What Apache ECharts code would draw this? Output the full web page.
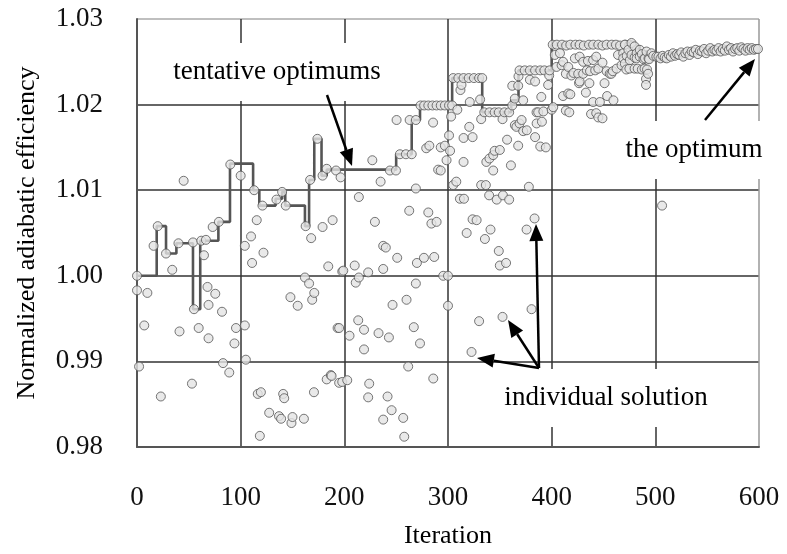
<!DOCTYPE html>
<html>
<head>
<meta charset="utf-8">
<script src="https://cdn.jsdelivr.net/npm/echarts@6/dist/echarts.min.js"></script>
<style>
html, body { margin: 0; padding: 0; background: #fff; }
#chart { width: 787px; height: 554px; }
</style>
</head>
<body>
<div id="chart"></div>
<script>
// individual solutions [iteration, normalized efficiency]
var sols0to100 = [
  [0,1.0000],[0,0.9983],[2,0.9894],[7,0.9942],[10,0.9980],[16,1.0035],[20,1.0058],[23,0.9859],
  [28,1.0026],[34,1.0007],[40,1.0038],[41,0.9935],[45,1.0111],[53,0.9874],[54,1.0039],[55,0.9961],
  [59.5,0.9939],[62,1.0041],[64.6,1.0024],[66.5,1.0042],[68,0.9987],[69,0.9966],[69,0.9927],
  [73,1.0057],[75.5,0.9979],[79,1.0063],[82,0.9958],[83,0.9898],[89,0.9887],[90,1.0130],
  [94,0.9921],[95.5,0.9939]
];
var sols100to200 = [
  [100,1.0117],[104,1.0035],[104,0.9942],[105,0.9902],[110,1.0046],[111,1.0015],[113,1.0100],
  [115.5,1.0065],[116.5,0.9862],[118.5,0.9813],[119.5,0.9864],[121,1.0082],[122,1.0027],
  [127.5,0.9840],[134.5,1.0089],[137,0.9836],[139,0.9833],[140,1.0098],[141,0.9862],[142,0.9857],
  [143.5,1.0082],[148,0.9975],[149,0.9828],[150,0.9835],[155,0.9965],[161,0.9833],[162,0.9998],
  [162.7,1.0058],[166,0.9991],[167,1.0112],[168,1.0044],[169,0.9972],[171,0.9980],[170.7,0.9864],
  [174,1.0160],[179,1.0117],[179,1.0057],[183,1.0125],[183,0.9879],[184.5,1.0011],[187,0.9884],
  [188.7,1.0065],[187.7,0.9883],[192,1.0123],[193.5,0.9939],[195,0.9875],[195,0.9939],
  [196.4,1.0115],[198,1.0005]
];
var sols200to300 = [
  [199,1.0006],[198,0.9876],[202.8,0.9878],[205,0.9930],[210,1.0012],[211,0.9992],[213.4,0.9948],
  [214,1.0092],[214,0.9998],[219,0.9937],[219,0.9914],[223,1.0004],[223,0.9858],[224,0.9874],
  [227,1.0135],[229.5,1.0063],[233,0.9933],[235,1.0110],[237.5,1.0035],[237.5,1.0008],
  [237.5,0.9832],[240,1.0033],[241.7,0.9859],[243,0.9928],[244,1.0123],[245.6,0.9843],
  [246.5,0.9966],[249.8,1.0123],[250.4,1.0182],[251,1.0021],[253.6,1.0142],[256.8,0.9834],
  [257.8,0.9812],[259.4,1.0142],[260,0.9972],[261.6,0.9894],[262.6,1.0076],[263,1.0182],
  [265,1.0142],[267,0.9940],[269,1.0182],[269,1.0102],[269,0.9991],[270,1.0015],[273,0.9921],
  [273.5,1.0199],[276.8,1.0021],[277,1.0199],[279,1.0149],[281,1.0199],[281,1.0074],[282,1.0152],
  [284,1.0061],[285,1.0199],[285.6,1.0179],[285.8,0.9880],[286.7,1.0022],[289,1.0199],
  [289,1.0063],[290.5,1.0124],[293,1.0199],[293,1.0150],[293,1.0123],[295.4,1.0000],
  [297,1.0199],[297,1.0152],[298.6,1.0135],[300,1.0000],[300,0.9965]
];
var sols300to400 = [
  [301,1.0199],[301,1.0164],[302,1.0146],[303,1.0186],[304,1.0199],[305,1.0231],[305,1.0106],
  [308,1.0110],[309,1.0194],[310,1.0231],[311.5,1.0090],[312,1.0217],[313,1.0223],[315,1.0231],
  [315,1.0161],[315,1.0133],[315.4,1.0090],[318,1.0050],[320,1.0231],[320.5,1.0174],[321,1.0203],
  [322.7,0.9911],[323.7,1.0162],[323.7,1.0066],[325,1.0231],[327.6,1.0065],[330,1.0231],
  [330,0.9947],[331,1.0206],[332,1.0183],[332,1.0106],[333,1.0231],[335,1.0191],[335.6,1.0043],
  [336.5,1.0106],[337,1.0133],[339.7,1.0094],[340,1.0191],[340,1.0137],[341,1.0054],
  [343.6,1.0141],[343.6,1.0123],[345,1.0191],[345,1.0146],[347,1.0089],[349,1.0191],[349,1.0029],
  [350,1.0147],[350,1.0012],[352.6,1.0183],[352.6,0.9952],[353,1.0094],[354.4,1.0191],
  [356,1.0015],[357,1.0159],[359,1.0191],[359,1.0089],[360.7,1.0129],[362,1.0222],[362,1.0199],
  [364.5,1.0207],[364.5,1.0176],[366,1.0174],[367.7,1.0222],[367.7,1.0152],[368,1.0233],
  [369,1.0240],[369,1.0178],[371,1.0182],[372.5,1.0205],[372.5,1.0169],[374,1.0240],
  [375.8,1.0054],[376,1.0170],[378,1.0104],[379,1.0240],[379,1.0229],[380.6,0.9961],
  [383.5,1.0067],[384,1.0240],[384,1.0227],[384,1.0162],[385.4,1.0191],[385.5,1.0178],
  [387,1.0191],[389,1.0240],[389,1.0151],[390,1.0209],[390.6,1.0180],[392,1.0192],[393,1.0240],
  [394.4,1.0150],[396.6,1.0223],[397.6,1.0234],[398,1.0240],[400,1.0194],[401.5,1.0197]
];
var sols400to500 = [
  [401,1.0270],[405,1.0270],[410,1.0270],[414,1.0269],[418,1.0270],[423,1.0270],[427,1.0270],
  [431,1.0269],[436,1.0270],[440,1.0270],[445,1.0270],[449,1.0269],[453,1.0270],[458,1.0270],
  [462,1.0270],[466,1.0269],[471,1.0270],[475,1.0270],[478,1.0269],
  [403,1.0258],[404.7,1.0244],[408,1.0260],[409.6,1.0246],[411,1.0250],[411,1.0210],
  [413.7,1.0236],[413.7,1.0193],[416,1.0244],[416,1.0213],[417,1.0191],[418,1.0212],
  [419,1.0234],[421,1.0237],[422.4,1.0254],[425.6,1.0236],[426.4,1.0225],[427,1.0256],
  [427,1.0227],[430.4,1.0250],[430.4,1.0236],[433,1.0214],[434,1.0240],[435,1.0251],
  [436.4,1.0225],[437,1.0239],[438,1.0189],[440,1.0252],[440,1.0203],[442,1.0240],[443,1.0256],
  [443,1.0190],[445,1.0242],[445,1.0185],[446.5,1.0203],[449,1.0249],[449,1.0184],[451,1.0225],
  [453,1.0239],[453.5,1.0210],[456,1.0236],[457.6,1.0236],[459,1.0239],[459.6,1.0205],
  [462.6,1.0242],[464,1.0258],[467.4,1.0246],[469,1.0260],[469,1.0254],[470.6,1.0248],
  [470.6,1.0270],[472,1.0241],[472.4,1.0257],[474,1.0264],[475,1.0242],[475.4,1.0252],
  [477,1.0258],[477,1.0272],[480,1.0255],[480,1.0242],[480,1.0268],[482,1.0260],[482,1.0254],
  [483,1.0242],[485,1.0256],[485,1.0264],[487,1.0259],[487,1.0241],[488.6,1.0253],
  [489.6,1.0242],[490,1.0254],[491,1.0230],[491,1.0223],[491.5,1.0262],[492,1.0241],
  [493,1.0236],[493.4,1.0254],[494,1.0253],[496.3,1.0260],[498,1.0257]
];
var sols500to600 = [
  [506.5,1.0082],
  [501,1.0256],[503,1.0256],[505,1.0254],[507,1.0257],[509,1.0255],[511,1.0254],[513,1.0258],
  [515,1.0256],[517,1.0260],[519,1.0257],[521,1.0259],[523,1.0258],[525,1.0261],[527,1.0256],
  [529,1.0260],[531,1.0262],[533,1.0258],[535,1.0262],[537,1.0261],[539,1.0264],[541,1.0259],
  [543,1.0263],[545,1.0262],[547,1.0265],[549,1.0260],[551,1.0263],[553,1.0266],[555,1.0262],
  [557,1.0264],[559,1.0263],[561,1.0266],[563,1.0262],[565,1.0265],[567,1.0263],[569,1.0268],
  [571,1.0264],[573,1.0266],[575,1.0262],[577,1.0265],[579,1.0266],[581,1.0263],[583,1.0267],
  [585,1.0265],[587,1.0263],[589,1.0266],[591,1.0264],[593,1.0266],[595,1.0264],[597,1.0265],
  [599,1.0265]
];
// tentative optimum (step line), value held until next point
var tentativeOptimums = [
  [0,1.0000],[19,1.0058],[28,1.0026],[38,1.0038],[54,0.9961],[61,1.0041],[78.5,1.0063],
  [89.7,1.0131],[112,1.0100],[118,1.0082],[133.7,1.0090],[140,1.0098],[143,1.0082],[162,1.0058],
  [166,1.0112],[171,1.0160],[178,1.0117],[183,1.0124],[250,1.0142],[265,1.0182],[273,1.0199],
  [304,1.0231],[333,1.0191],[361,1.0205],[368,1.0240],[400,1.0270],[478,1.0268],[485,1.0262],
  [492,1.0258],[500,1.0256],[510,1.0256],[520,1.0258],[530,1.0260],[540,1.0261],[550,1.0262],
  [560,1.0263],[570,1.0264],[580,1.0264],[590,1.0265],[600,1.0265]
];

var solutions = [].concat(sols0to100, sols100to200, sols200to300, sols300to400, sols400to500, sols500to600);

var FONT = '"Liberation Serif", "DejaVu Serif", serif';

function arrow(x1, y1, x2, y2) {
  var dx = x2 - x1, dy = y2 - y1, len = Math.sqrt(dx * dx + dy * dy);
  var ux = dx / len, uy = dy / len, hl = 17, hw = 7;
  var bx = x2 - ux * hl, by = y2 - uy * hl;
  return [
    { type: 'line', z: 100, shape: { x1: x1, y1: y1, x2: bx, y2: by },
      style: { stroke: '#000', lineWidth: 2.5 } },
    { type: 'polygon', z: 100,
      shape: { points: [[x2, y2], [bx - uy * hw, by + ux * hw], [bx + uy * hw, by - ux * hw]] },
      style: { fill: '#000' } }
  ];
}

function label(text, x, y, w, h) {
  return [
    { type: 'rect', z: 90, shape: { x: x - w / 2, y: y - h / 2, width: w, height: h },
      style: { fill: '#fff' } },
    { type: 'text', z: 95, x: x, y: y,
      style: { text: text, font: '27px ' + FONT, fill: '#000', align: 'center', verticalAlign: 'middle' } }
  ];
}

var chart = echarts.init(document.getElementById('chart'));
chart.setOption({
  animation: false,
  backgroundColor: '#fff',
  grid: { left: 137, right: 28, top: 19, bottom: 107 },
  xAxis: {
    type: 'value', min: 0, max: 600, interval: 100,
    name: 'Iteration', nameLocation: 'middle', nameGap: 76,
    nameTextStyle: { fontFamily: FONT, fontSize: 26, color: '#000' },
    axisLine: { show: true, lineStyle: { color: '#555', width: 2 } },
    axisTick: { show: false },
    axisLabel: { fontFamily: FONT, fontSize: 27, color: '#111', margin: 37 },
    splitLine: { show: true, lineStyle: { color: ['#555', '#333', '#333', '#333', '#333', '#333', '#999'], width: 1.5 } }
  },
  yAxis: {
    type: 'value', min: 0.98, max: 1.03, interval: 0.01,
    name: 'Normalized adiabatic efficiency', nameLocation: 'middle', nameGap: 97,
    nameTextStyle: { fontFamily: FONT, fontSize: 26, color: '#000' },
    axisLine: { show: true, lineStyle: { color: '#555', width: 2 } },
    axisTick: { show: false },
    axisLabel: { fontFamily: FONT, fontSize: 27, color: '#111', margin: 34,
      formatter: function (v) { return v.toFixed(2); } },
    splitLine: { show: true, lineStyle: { color: ['#555', '#333', '#333', '#333', '#333', '#aaa'], width: 1.5 } }
  },
  series: [
    {
      name: 'tentative optimums', type: 'line', step: 'end', data: tentativeOptimums,
      symbol: 'none', z: 2,
      lineStyle: { color: '#555', width: 2.6 }
    },
    {
      name: 'individual solution', type: 'scatter', data: solutions, z: 3,
      symbol: 'circle', symbolSize: 9,
      itemStyle: { color: '#e4e4e4', borderColor: '#555', borderWidth: 1 }
    }
  ],
  graphic: [].concat(
    label('tentative optimums', 277, 72, 226, 58),
    label('the optimum', 694, 150, 136, 58),
    label('individual solution', 606, 398, 222, 58),
    arrow(327, 95, 352, 166),
    arrow(705, 120, 755, 59),
    arrow(539, 368, 477, 358),
    arrow(539, 368, 508, 320),
    arrow(539, 368, 536, 224)
  )
});
</script>
</body>
</html>
